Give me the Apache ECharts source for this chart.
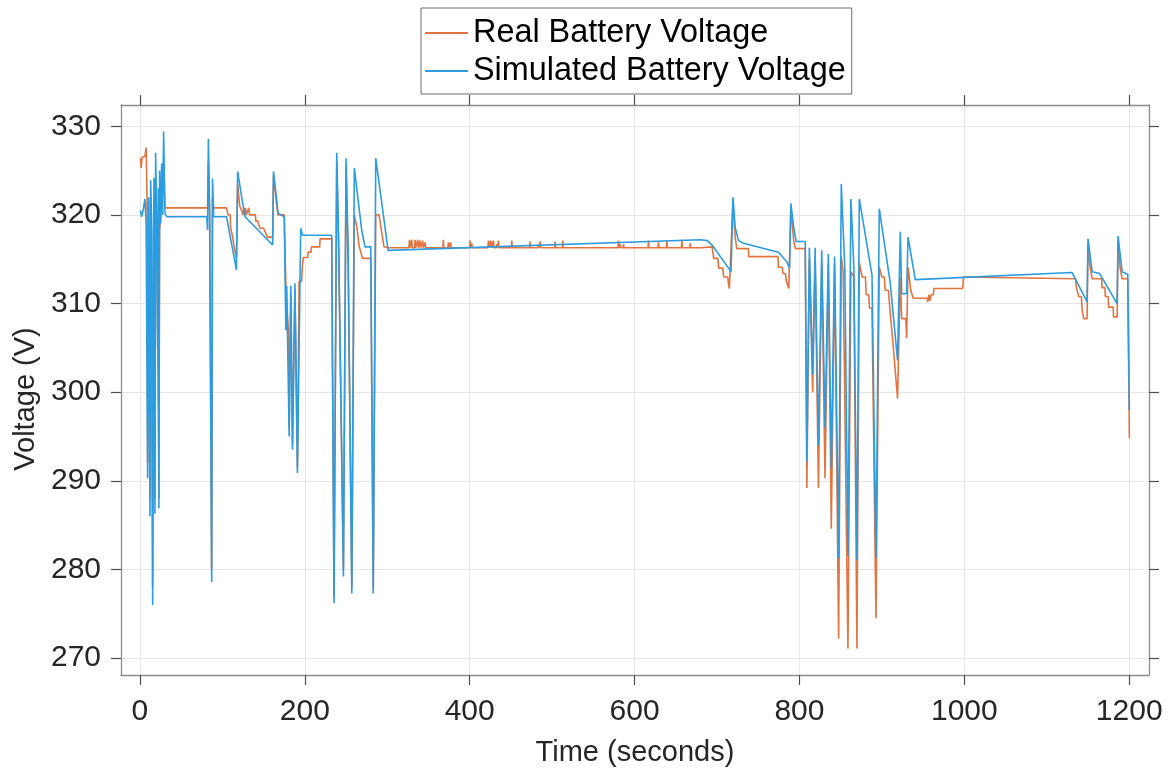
<!DOCTYPE html>
<html>
<head>
<meta charset="utf-8">
<script src="https://cdn.jsdelivr.net/npm/echarts@6/dist/echarts.min.js"></script>
<style>
  html, body { margin: 0; padding: 0; background: #fff; }
  #chart { width: 1176px; height: 778px; }
</style>
</head>
<body>
<div id="chart"></div>
<script>
// Series names shown in the legend
const seriesNames = ['Real Battery Voltage', 'Simulated Battery Voltage'];

// Tick values for both axes
const timeTicks = [0, 200, 400, 600, 800, 1000, 1200];
const voltTicks = [270, 280, 290, 300, 310, 320, 330];

// Measured pack voltage: [time (s), voltage (V)]
const realVoltage = [
  [0.5,326.4],[1.5,325.3],[2.5,326.5],[6,326.6],[7.5,327.6],[8.5,322.5],[9.3,292],[10.5,321.5],[12.1,288],[13,322],
  [15.4,278],[17,322],[18.2,288],[19,324],[20.5,318],[23,288],[23.8,318.3],[25,319.5],[28.7,326],[30.3,320.8],
  [82,320.8],[83,326],[84.5,320.8],[87,280],[88,322],[89.5,320.8],[105,320.8],[107,320],[109.5,320],[110,318.5],
  [112,318.5],[112.5,317.5],[114,317.5],[114.5,316.2],[116,316.2],[117,315.1],[118.5,323.5],[121,321],[123.4,320.5],
  [125,320],[126,320.8],[127,320],[128,320.8],[129,320],[131,320],[132,320.8],[133,320],[140,320],[140.5,319.3],
  [143,319.3],[145.5,318.5],[150,318.5],[154.5,317.5],[161,317.5],[162,324.5],[166,321],[167.5,320],[175,320],
  [176,316],[177,311.9],[179,311.9],[180,307],[181,296],[183,311],[185,294],[188,311.5],[191,291.5],[193,312.5],
  [196,312.5],[197,314.1],[198,315.2],[203.5,315.2],[204,315.8],[207.5,315.8],[208,316.4],[218,316.4],[218.5,317.3],
  [232.6,317.3],[235.4,277],[238.7,326],[241,316.2],[243,316.2],[246.8,280],[250,325.5],[252.5,314],[254,314],
  [257,278],[260,320],[263,318.7],[266,316.4],[270,315.1],[280,315.1],[283,278],[286,320],[290,320],[296,316.4],
  [301,316.3],
  [326.3,316.3],[326.9,317.2],[327.5,316.3],[329.1,316.3],[329.7,317.2],[330.3,316.3],[333.1,316.3],[333.7,317.2],[334.3,316.3],
  [336.4,316.3],[337,317.2],[337.6,316.3],[339.2,316.3],[339.8,317.1],[340.4,316.3],[342.4,316.3],[343,317.1],[343.6,316.3],
  [345.3,316.3],[345.9,316.9],[346.5,316.3],[367.4,316.3],[368,317.2],[368.6,316.3],[373.6,316.3],[374.2,316.9],[374.8,316.3],
  [376.4,316.3],[377,316.9],[377.6,316.3],[399.9,316.3],[400.5,317.1],[401.1,316.3],[401.9,316.3],[402.5,316.8],[403.1,316.3],
  [422.1,316.3],[422.7,317.1],[423.3,316.3],[425,316.3],[425.6,317.1],[426.2,316.3],[428.2,316.3],[428.8,317.1],[429.4,316.3],
  [432.3,316.3],[432.9,316.7],[433.5,316.3],[434.3,316.3],[434.9,317.1],[435.5,316.3],[450.4,316.3],[451,317.1],[451.6,316.3],
  [472.7,316.3],[473.3,317],[473.9,316.3],[482.8,316.3],[483.4,316.7],[484,316.3],[484.8,316.3],[485.4,317],[486,316.3],
  [503,316.3],[503.6,317],[504.2,316.3],[512.4,316.3],[513,317.1],[513.6,316.3],[579.9,316.3],[580.5,317.1],[581.1,316.3],
  [581.9,316.3],[582.5,316.7],[583.1,316.3],[586,316.3],[586.6,316.7],[587.2,316.3],[616.3,316.3],[616.9,317.1],[617.5,316.3],
  [628.4,316.3],[629,316.9],[629.6,316.3],[638.6,316.3],[639.2,317.1],[639.8,316.3],[656.8,316.3],[657.4,317.2],[658,316.3],
  [666.9,316.3],[667.5,316.8],[668.1,316.3],
  [680,316.3],[694,316.4],[696,315.1],[701,315.1],[702,314],[707,314],[708,313],[713,313],[714,312.2],[715,311.7],
  [716.5,311.7],[719.3,321.5],[722,317.5],[724,316.2],[738,316.2],[738.5,315.3],[774,315.3],[774.5,314.1],[779,314.1],
  [780,313.4],[783,313.4],[784,312.6],[786,312.6],[787,311.7],[788.5,311.7],[789.6,320.8],[793,317.1],[795,316.2],
  [807,316.2],[809,289.2],[812,315],[816,300],[819,315],[823,289.2],[827,314.5],[831,290.3],[835,314.5],[838.6,284.6],
  [842.6,314.5],[847.5,272.2],[850.7,315.3],[853,313.6],[858.8,271.1],[862.4,313.6],[866,313],[869.7,271.1],
  [872.6,314.6],[876,313],[880,313],[881,311],[884,311],[885,309.5],[888,309.5],[892.8,274.5],[896.8,314.1],
  [900,313],[903,313],[904,311.5],[908,311.5],[910,309],[913,306],[919,299.3],[922.3,313],[924,308.3],[929,308.3],
  [930,306.1],[931.7,314.1],[935,311.5],[938,310.6],[955,310.6],[955.5,310.2],[957,311],[958,310.3],[960,311],
  [962.5,311],[963,311.7],[998,311.7],[999,313],[1134.7,312.8],[1136,311.8],[1138.3,311.8],[1138.8,310.8],
  [1142,310.8],[1142.8,309.4],[1144.3,309.4],[1144.8,308.3],[1148.9,308.3],[1150,316.8],[1152,314.5],[1155,312.8],
  [1166.5,312.8],[1167,311.8],[1170.5,311.8],[1171,310.8],[1174.5,310.8],[1175,309.6],[1180.5,309.6],[1181,308.5],
  [1185.3,308.5],[1186.5,317],[1189,314],[1191.4,312.8],[1198.2,312.8],[1200.2,294.8]
];

// Model output: [time (s), voltage (V)]
const simulatedVoltage = [
  [0.5,320.5],[2,319.8],[4,320.6],[6,321.8],[7.5,319],[9.3,290.3],[10.5,322],[12.1,286],[13,323.9],[14.5,318],
  [15.4,276],[17,324.2],[18.2,286.3],[19,327],[20.5,318],[21.5,305],[22.3,323],[23,286.9],[23.8,325],[25,319],
  [26.3,325.8],[27.5,320],[28.7,329.4],[30.3,320.2],[32.4,319.8],
  [81,319.8],[82,318.3],[83,328.6],[84.5,319.8],[87,278.6],[88,324.1],[89.5,319.8],[105,319.8],[117,313.8],
  [118.5,324.9],[123.4,322],[127.4,319.8],[161,316.6],[162,324.9],[166,321.5],[167.5,320.2],[175,319.8],[177,307],
  [178,312],[181,295],[183,312],[185,293.5],[188,312.3],[191,290.9],[195,318.5],[197.4,317.7],[232.6,317.7],
  [235.4,276.2],[238.7,327],[241,317.2],[243,317.2],[246.8,279.2],[250,326.4],[252.5,316.4],[254,316.4],[257,277.3],
  [260,325.3],[269,318.3],[273,316.4],[280,316.4],[283,277.3],[286,326.4],[301,316.0],[680,317.2],[688,317.1],
  [694,316.6],[717,313.6],[719.3,322],[722,318.6],[726,317.1],[732,316.8],[774.6,315.8],[784.8,314.7],[788,314],
  [789.6,321.3],[793,318.6],[796,317],[807,317.0],
  [809,292.2],[812,316.3],[816,302],[819,316.3],[823,294],[827,316.0],[831,296],[835,315.6],[838.6,291.4],
  [842.6,315.3],[847.5,281.3],[850.7,323.5],[855,314],[858.8,281.5],[862.4,321.8],[866,314],[869.7,281.1],
  [872.6,321.8],[888,313.2],[892.8,281.3],[896.8,320.7],[910,312.4],[919,303.6],[922.3,318.1],[924,311.1],
  [930,311.1],[931.7,317.5],[940.5,312.7],[1130.7,313.5],[1148.9,310.2],[1150,317.3],[1155,313.6],[1164,313.4],
  [1185.3,310.0],[1186.5,317.6],[1191.4,313.6],[1198.2,313.3],[1200.2,298]
];

const FONT = 'Liberation Sans, Arial, sans-serif';
const boxColor = '#8c8c8c';
const tickColor = '#4d4d4d';

// Shared axis look: grey frame, outward ticks, light grid
function frameAxis(extra) {
  return Object.assign({
    type: 'value',
    axisLine: { show: true, onZero: false, lineStyle: { color: boxColor, width: 1.3 } },
    axisTick: { show: true, inside: false, length: 10, lineStyle: { color: tickColor, width: 1.2 } },
    splitLine: { show: false },
    axisLabel: { show: false }
  }, extra);
}

// Plain integers on the tick labels (no thousands separator)
const plainNumber = (v) => String(Math.round(v));

const chart = echarts.init(document.getElementById('chart'), null, { renderer: 'canvas' });

chart.setOption({
  animation: false,
  backgroundColor: '#ffffff',
  grid: { left: 121, right: 27, top: 105, bottom: 103, containLabel: false },
  legend: {
    data: seriesNames,
    orient: 'vertical',
    left: 421,
    top: 8,
    padding: [9, 6, 7, 4],
    itemGap: 6,
    itemWidth: 43,
    itemHeight: 2,
    icon: 'rect',
    borderColor: '#6e6e6e',
    borderWidth: 1,
    backgroundColor: '#ffffff',
    textStyle: { fontFamily: FONT, fontSize: 32.4, color: '#000000', lineHeight: 32 }
  },
  xAxis: [
    frameAxis({
      position: 'bottom',
      min: -23, max: 1224,
      name: 'Time (seconds)',
      nameLocation: 'middle',
      nameGap: 63,
      nameTextStyle: { fontFamily: FONT, fontSize: 29, color: '#262626' },
      axisTick: { show: true, inside: false, length: 10, customValues: timeTicks, lineStyle: { color: tickColor, width: 1.2 } },
      axisLabel: { show: true, customValues: timeTicks, formatter: plainNumber, margin: 22, fontFamily: FONT, fontSize: 30, color: '#262626' },
      splitLine: { show: true, lineStyle: { color: '#e6e6e6', width: 1 } }
    }),
    frameAxis({
      position: 'top',
      min: -23, max: 1224,
      axisTick: { show: true, inside: false, length: 10, customValues: timeTicks, lineStyle: { color: tickColor, width: 1.2 } }
    })
  ],
  yAxis: [
    frameAxis({
      position: 'left',
      min: 268.1, max: 332.4,
      name: 'Voltage (V)',
      nameLocation: 'middle',
      nameGap: 74,
      nameTextStyle: { fontFamily: FONT, fontSize: 29, color: '#262626', padding: [0, 18, 0, 0] },
      axisTick: { show: true, inside: false, length: 10, customValues: voltTicks, lineStyle: { color: tickColor, width: 1.2 } },
      axisLabel: { show: true, customValues: voltTicks, formatter: plainNumber, margin: 20, fontFamily: FONT, fontSize: 30, color: '#262626' },
      splitLine: { show: true, lineStyle: { color: '#e6e6e6', width: 1 } }
    }),
    frameAxis({
      position: 'right',
      min: 268.1, max: 332.4,
      axisTick: { show: true, inside: false, length: 10, customValues: voltTicks, lineStyle: { color: tickColor, width: 1.2 } }
    })
  ],
  series: [
    {
      name: seriesNames[0],
      type: 'line',
      xAxisIndex: 0, yAxisIndex: 0,
      data: realVoltage,
      showSymbol: false,
      symbol: 'none',
      sampling: null,
      color: '#e3733f',
      lineStyle: { color: '#e3733f', width: 1.6 },
      z: 2
    },
    {
      name: seriesNames[1],
      type: 'line',
      xAxisIndex: 0, yAxisIndex: 0,
      data: simulatedVoltage,
      showSymbol: false,
      symbol: 'none',
      sampling: null,
      color: '#2b9ce0',
      lineStyle: { color: '#2b9ce0', width: 1.6 },
      z: 3
    }
  ]
});
</script>
</body>
</html>
